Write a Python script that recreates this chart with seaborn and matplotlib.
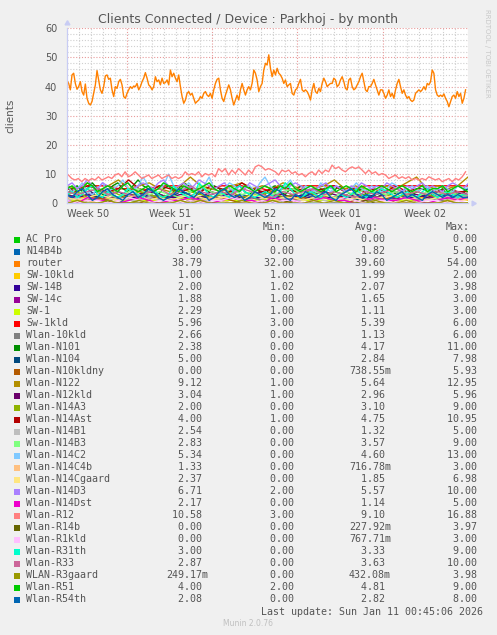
import numpy as np
import pandas as pd
import matplotlib
matplotlib.use("Agg")
import matplotlib.pyplot as plt
import seaborn as sns

# ---------------- data ----------------
names = ["AC Pro", "N14B4b", "router", "SW-10kld", "SW-14B", "SW-14c", "SW-1", "Sw-1kld",
         "Wlan-10kld", "Wlan-N101", "Wlan-N104", "Wlan-N10kldny", "Wlan-N122", "Wlan-N12kld",
         "Wlan-N14A3", "Wlan-N14Ast", "Wlan-N14B1", "Wlan-N14B3", "Wlan-N14C2", "Wlan-N14C4b",
         "Wlan-N14Cgaard", "Wlan-N14D3", "Wlan-N14Dst", "Wlan-R12", "Wlan-R14b", "Wlan-R1kld",
         "Wlan-R31th", "Wlan-R33", "WLAN-R3gaard", "Wlan-R51", "Wlan-R54th"]
colors = ["#00CC00", "#0066B3", "#FF8000", "#FFCC00", "#330099", "#990099", "#CCFF00", "#FF0000",
          "#808080", "#008F00", "#00487D", "#B35A00", "#B38F00", "#6B006B", "#8FB300", "#B30000",
          "#BEBEBE", "#80FF80", "#80C9FF", "#FFC080", "#FFE680", "#AA80FF", "#EE00CC", "#FF8080",
          "#666600", "#FFBFFF", "#00FFCC", "#CC6699", "#999900", "#00CC00", "#0066B3"]
cur = ["0.00 ", "3.00 ", "38.79 ", "1.00 ", "2.00 ", "1.88 ", "2.29 ", "5.96 ", "2.66 ", "2.38 ",
       "5.00 ", "0.00 ", "9.12 ", "3.04 ", "2.00 ", "4.00 ", "2.54 ", "2.83 ", "5.34 ", "1.33 ",
       "2.37 ", "6.71 ", "2.17 ", "10.58 ", "0.00 ", "0.00 ", "3.00 ", "2.87 ", "249.17m", "4.00 ", "2.08 "]
mins = ["0.00 ", "0.00 ", "32.00 ", "1.00 ", "1.02 ", "1.00 ", "1.00 ", "3.00 ", "0.00 ", "0.00 ",
        "0.00 ", "0.00 ", "1.00 ", "1.00 ", "0.00 ", "1.00 ", "0.00 ", "0.00 ", "0.00 ", "0.00 ",
        "0.00 ", "2.00 ", "0.00 ", "3.00 ", "0.00 ", "0.00 ", "0.00 ", "0.00 ", "0.00 ", "2.00 ", "0.00 "]
avgs = ["0.00 ", "1.82 ", "39.60 ", "1.99 ", "2.07 ", "1.65 ", "1.11 ", "5.39 ", "1.13 ", "4.17 ",
        "2.84 ", "738.55m", "5.64 ", "2.96 ", "3.10 ", "4.75 ", "1.32 ", "3.57 ", "4.60 ", "716.78m",
        "1.85 ", "5.57 ", "1.14 ", "9.10 ", "227.92m", "767.71m", "3.33 ", "3.63 ", "432.08m", "4.81 ", "2.82 "]
maxs = ["0.00 ", "5.00 ", "54.00 ", "2.00 ", "3.98 ", "3.00 ", "3.00 ", "6.00 ", "6.00 ", "11.00 ",
        "7.98 ", "5.93 ", "12.95 ", "5.96 ", "9.00 ", "10.95 ", "5.00 ", "9.00 ", "13.00 ", "3.00 ",
        "6.98 ", "10.00 ", "5.00 ", "16.88 ", "3.97 ", "3.00 ", "9.00 ", "10.00 ", "3.98 ", "9.00 ", "8.00 "]

router = [42.1, 41.1, 38.9, 44.0, 44.6, 41.1, 39.1, 40.0, 41.7, 38.3, 37.1, 40.9, 36.0, 34.3, 33.7,
          34.9, 37.7, 40.6, 45.5, 42.3, 38.9, 37.7, 40.0, 43.7, 44.0, 42.5, 42.9, 38.9, 36.6, 40.0,
          39.4, 41.7, 42.5, 40.6, 36.6, 36.0, 37.7, 38.9, 40.0, 39.4, 40.2, 40.0, 41.1, 38.9, 40.0,
          41.7, 42.9, 44.8, 42.9, 40.6, 40.0, 38.9, 40.0, 43.4, 41.7, 42.3, 40.6, 42.9, 41.1, 41.4,
          42.3, 40.6, 45.7, 43.4, 44.6, 42.9, 41.7, 44.0, 40.0, 36.6, 34.3, 35.4, 37.7, 38.3, 37.1,
          37.7, 36.0, 34.3, 34.9, 35.4, 36.6, 36.0, 37.7, 38.3, 37.1, 36.6, 37.7, 36.0, 38.9, 41.1,
          42.5, 42.9, 38.9, 36.0, 34.9, 37.1, 38.9, 40.6, 38.9, 36.0, 33.7, 35.4, 37.1, 35.4, 38.9,
          41.1, 38.9, 37.1, 38.9, 40.0, 38.9, 41.1, 45.7, 44.6, 42.3, 38.3, 40.0, 41.1, 45.7, 48.0,
          47.4, 50.9, 46.3,
          43.4, 45.7, 44.0, 46.3, 44.6, 44.0, 42.9, 41.1, 42.3, 40.0, 40.6, 41.1, 37.7, 37.1, 38.9,
          39.4, 41.1, 42.5, 38.9, 38.3, 38.9, 38.3, 37.1, 35.4, 38.9, 41.1, 38.3, 37.7, 39.4, 38.3,
          41.1, 42.9, 41.7, 40.0, 40.6, 41.1, 41.1, 42.9, 42.3, 40.0, 40.6, 42.3, 43.4, 41.7, 39.4,
          38.9, 42.3, 42.9, 40.0, 38.9, 39.4, 40.6, 41.7, 43.4, 44.6, 41.7, 38.9, 38.3, 40.0, 40.0,
          41.1, 42.5, 40.6, 38.9, 37.1, 38.9, 38.9, 37.7, 36.0, 37.1, 38.9, 36.6, 37.7, 36.0, 38.9,
          41.1, 42.5, 40.0, 37.7, 38.9, 37.1, 36.0, 36.6, 35.4, 34.9, 35.4, 37.7, 38.3, 38.9, 38.3,
          38.9, 40.0, 38.9, 41.1, 40.6, 41.7, 45.7, 44.6, 38.9, 37.1, 36.6, 37.1, 36.6, 37.5, 36.0,
          34.9, 33.1, 34.9, 36.6, 37.1, 36.0, 38.3, 36.6, 37.7, 34.3, 36.0, 38.9]

r12 = [9.1, 9.7, 8.5, 8.0, 8.5, 7.4, 8.5, 7.7, 8.5, 8.0, 9.1, 8.0, 8.5, 9.1, 8.5, 9.7, 10.2, 9.1,
       10.8, 9.1, 9.7, 10.8, 9.7, 8.5, 9.1, 9.7, 8.5, 9.1, 9.7, 8.5, 9.1, 9.7, 8.5, 9.1, 8.5, 9.1,
       10.8, 9.7, 10.2, 9.7, 10.8, 9.1, 10.2, 9.7, 10.2, 9.1, 11.9, 10.8, 11.9, 9.7, 11.4, 10.2,
       11.9, 10.8, 9.7, 11.4, 10.2, 12.5, 13.1, 12.5, 11.4,
       11.9, 11.4, 10.8, 9.7, 11.4, 10.8, 11.4, 10.2, 10.8, 9.7, 10.2, 9.1, 10.2, 10.8, 9.7, 11.4,
       10.2, 11.4, 10.8, 13.1, 11.9, 12.5, 11.4, 10.8, 11.9, 12.5, 11.9, 12.5, 11.4, 10.2, 11.4,
       10.2, 10.8, 9.7, 10.2, 9.7, 8.5, 9.1, 9.7, 8.5, 9.1, 8.5, 9.1, 8.0, 8.5, 8.0, 8.5, 8.0, 9.1,
       8.5, 8.0, 8.5, 7.4, 8.0, 8.5, 7.4, 8.5, 8.0, 9.1, 10.8]

ac_pro = [0.0, 0.0]
n14b4b = [2, 3, 1, 2, 1, 0, 2, 3, 2, 1, 2, 4, 3, 2, 1, 1, 2, 3, 2, 1, 0, 1, 2, 3, 2, 2, 1, 3, 2, 1, 2, 1, 3, 2, 2, 1, 2, 3, 2, 3]
sw_10kld = [2, 2, 2, 2, 2, 2, 2, 2, 2, 2, 2, 2, 1.5, 2, 2, 2, 2, 2, 2, 2, 2, 2, 2, 2, 2, 2, 2, 2, 2, 2, 2, 2, 2, 2, 2, 2, 1.8, 2, 2, 1]
sw_14b = [2, 2, 3, 2, 2, 1.5, 2, 2, 3, 2, 2, 2, 1, 2, 2, 3, 2, 2, 2, 2, 1.5, 2, 3, 2, 2, 2, 2, 3, 2, 2, 2, 1.5, 2, 2, 2, 3, 2, 2, 2, 2]
sw_14c = [2, 1, 2, 1.5, 2, 1, 1, 2, 2, 1.5, 1, 2, 2, 1, 1.5, 2, 2, 1, 2, 1, 2, 2, 1.5, 1, 2, 2, 1, 1.5, 2, 2, 1, 2, 1.5, 2, 1, 2, 2, 1.5, 2, 1.9]
sw_1 = [1, 1, 1, 1, 1.5, 1, 1, 1, 1, 1, 1, 2, 1, 1, 1, 1, 1, 1, 1, 1.3, 1, 1, 1, 1, 1, 1, 1, 1, 1.5, 1, 1, 1, 1, 1, 1, 1, 1, 1, 1, 2.3]
sw_1kld = [5, 5, 6, 6, 6, 5, 5, 4, 5, 6, 6, 6, 5, 5, 5, 6, 6, 6, 5, 5, 4, 5, 5, 6, 6, 6, 6, 5, 5, 6, 6, 6, 6, 6, 6, 6, 6, 6, 6, 6]
wlan_10kld = [1, 0, 1, 2, 1, 0, 0, 1, 2, 3, 1, 0, 1, 1, 2, 1, 0, 1, 2, 1, 1, 0, 1, 2, 1, 3, 2, 1, 0, 1, 1, 2, 1, 0, 1, 2, 1, 1, 2, 2.7]
n101 = [3, 5, 6, 4, 5, 7, 5, 3, 4, 6, 7, 5, 4, 6, 8, 6, 5, 4, 3, 5, 6, 4, 5, 7, 6, 4, 3, 5, 4, 6, 5, 3, 4, 5, 6, 4, 3, 5, 4, 3,
        5, 6, 4, 3, 5, 4, 6, 5, 3, 4, 5, 4, 3, 5, 6, 4, 3, 4, 5, 3, 4, 2, 3, 5, 4, 3, 4, 5, 3, 4, 5, 4, 3, 4, 5, 3, 4, 3, 4, 2.4]
n104 = [4, 3, 5, 2, 3, 4, 2, 3, 5, 3, 2, 4, 3, 2, 3, 4, 2, 1, 3, 4, 3, 2, 3, 2, 4, 3, 2, 3, 1, 2, 3, 4, 2, 3, 2, 3, 2, 4, 3, 5]
n10kldny = [0, 0, 1, 2, 1, 0, 0, 0, 1, 3, 1, 0, 0, 0, 1, 2, 1, 0, 0, 1, 0, 0, 1, 2, 1, 0, 0, 0, 1, 0, 1, 2, 0, 0, 1, 0, 0, 1, 0, 0]
n122 = [6, 5, 7, 4, 6, 8, 5, 6, 7, 5, 4, 6, 9, 6, 5, 4, 6, 7, 5, 6, 5, 7, 6, 4, 5, 6, 8, 5, 6, 5, 4, 6, 5, 7, 9, 5, 6, 5, 6, 9]
n12kld = [3, 2, 3, 4, 3, 2, 3, 3, 4, 3, 2, 3, 3, 2, 4, 3, 3, 2, 3, 4, 3, 3, 2, 3, 3, 4, 3, 2, 3, 3, 2, 3, 4, 3, 3, 2, 3, 3, 4, 3]
n14a3 = [3, 4, 2, 3, 5, 3, 2, 4, 3, 2, 3, 5, 4, 3, 2, 3, 4, 2, 3, 3, 4, 2, 3, 5, 3, 2, 4, 3, 2, 3, 4, 3, 2, 3, 4, 3, 2, 4, 3, 2]
n14ast = [5, 4, 6, 5, 4, 5, 8, 5, 4, 6, 5, 4, 5, 4, 6, 5, 4, 7, 5, 4, 5, 6, 4, 5, 4, 5, 6, 4, 5, 4, 5, 4, 6, 4, 5, 5, 4, 5, 4, 4]
n14b1 = [1, 2, 1, 0, 1, 2, 1, 1, 2, 1, 0, 1, 2, 1, 1, 2, 3, 1, 1, 0, 1, 2, 1, 1, 2, 1, 0, 1, 2, 1, 2, 1, 1, 2, 1, 1, 2, 1, 2, 2.5]
n14b3 = [4, 3, 5, 4, 3, 2, 4, 5, 3, 4, 3, 2, 4, 6, 4, 3, 5, 3, 4, 2, 3, 4, 5, 3, 4, 3, 2, 4, 3, 5, 4, 3, 4, 3, 2, 4, 3, 4, 3, 2.8]
n14c2 = [6, 4, 5, 7, 4, 3, 5, 7, 4, 5, 6, 8, 5, 4, 6, 9, 6, 4, 5, 6, 10, 6, 4, 5, 7, 5, 4, 6, 9, 5, 4, 5, 7, 6, 4, 5, 6, 4, 7, 9,
         6, 4, 5, 6, 8, 5, 4, 6, 5, 4, 7, 5, 4, 6, 5, 4, 5, 7, 5, 4, 6, 5, 4, 5, 7, 6, 4, 5, 6, 4, 5, 6, 4, 5, 6, 5, 4, 6, 5, 5.3]
n14c4b = [0, 1, 1, 0, 0, 1, 2, 1, 0, 0, 1, 0, 1, 1, 2, 1, 0, 0, 1, 0, 1, 1, 0, 0, 1, 2, 1, 0, 0, 1, 0, 1, 1, 0, 1, 0, 0, 1, 1, 1.3]
n14cgaard = [2, 1, 2, 3, 2, 1, 2, 3, 1, 2, 1, 2, 3, 2, 1, 2, 2, 1, 3, 2, 1, 2, 2, 1, 2, 3, 2, 1, 2, 1, 2, 2, 3, 1, 2, 1, 2, 2, 1, 2.4]
n14d3 = [6, 7, 5, 6, 8, 6, 5, 7, 6, 5, 4, 6, 7, 5, 6, 7, 6, 5, 7, 8, 6, 5, 6, 7, 5, 6, 8, 7, 6, 5, 6, 7, 5, 4, 6, 5, 7, 6, 5, 6,
         7, 8, 6, 5, 6, 7, 6, 5, 4, 5, 6, 7, 5, 6, 5, 4, 6, 5, 7, 6, 5, 6, 5, 7, 6, 5, 4, 6, 5, 6, 7, 5, 6, 5, 4, 6, 7, 6, 5, 6.7]
n14dst = [1, 0, 2, 1, 1, 0, 1, 2, 1, 0, 1, 1, 2, 1, 0, 1, 2, 1, 1, 0, 2, 1, 1, 0, 1, 2, 1, 1, 0, 1, 2, 1, 1, 2, 1, 0, 1, 2, 1, 2.2]
r14b = [0, 0, 0, 0, 1, 0, 0, 0, 0, 0, 0, 0, 1, 0, 0, 0, 0, 0, 0, 0, 0, 1, 0, 0, 0, 0, 0, 0, 0, 1, 0, 0, 0, 0, 0, 0, 0, 0, 0, 0]
r1kld = [1, 0, 1, 1, 0, 1, 2, 1, 0, 1, 1, 0, 1, 0, 1, 1, 2, 1, 0, 1, 0, 1, 1, 0, 1, 0, 1, 2, 1, 0, 1, 1, 0, 1, 0, 1, 1, 0, 1, 0]
r31th = [3, 4, 2, 3, 5, 6, 3, 2, 4, 3, 2, 3, 5, 4, 3, 2, 4, 5, 3, 2, 3, 6, 4, 3, 2, 3, 7, 5, 3, 2, 4, 3, 2, 5, 6, 4, 3, 2, 3, 4,
         3, 2, 4, 7, 5, 3, 2, 3, 4, 3, 2, 4, 6, 4, 3, 2, 3, 5, 3, 2, 4, 3, 5, 4, 3, 2, 3, 4, 3, 2, 4, 5, 3, 2, 3, 4, 3, 2, 3, 3]
r33 = [4, 3, 4, 5, 3, 4, 3, 2, 4, 5, 3, 4, 6, 4, 3, 4, 3, 5, 4, 3, 2, 4, 3, 4, 5, 3, 4, 3, 2, 4, 3, 4, 5, 3, 4, 3, 4, 3, 4, 2.9]
r3gaard = [0, 1, 0, 0, 1, 0, 0, 1, 0, 0, 0, 1, 0, 1, 0, 0, 0, 1, 0, 0, 1, 0, 0, 0, 1, 0, 1, 0, 0, 0, 1, 0, 0, 1, 0, 0, 0, 1, 0, 0.2]
r51 = [5, 6, 4, 5, 7, 6, 4, 5, 6, 5, 4, 6, 7, 5, 4, 5, 6, 4, 5, 7, 6, 5, 4, 6, 5, 4, 5, 6, 7, 5, 4, 5, 6, 5, 4, 6, 5, 4, 5, 6,
       5, 4, 6, 5, 7, 5, 4, 5, 6, 5, 4, 5, 6, 4, 5, 6, 5, 4, 6, 5, 4, 5, 6, 5, 4, 5, 6, 5, 4, 5, 6, 4, 5, 5, 6, 4, 5, 6, 5, 4]
r54th = [3, 2, 4, 5, 3, 1, 2, 4, 5, 3, 2, 1, 3, 4, 2, 3, 5, 4, 2, 1, 2, 3, 5, 4, 3, 2, 4, 3, 1, 2, 4, 5, 3, 2, 3, 1, 2, 4, 3, 2,
         3, 5, 4, 2, 1, 3, 2, 4, 3, 2, 3, 4, 2, 1, 3, 4, 5, 3, 2, 3, 2, 4, 3, 1, 2, 3, 4, 2, 3, 2, 1, 3, 4, 3, 2, 3, 2, 3, 2, 2.1]

series = [ac_pro, n14b4b, router, sw_10kld, sw_14b, sw_14c, sw_1, sw_1kld, wlan_10kld, n101, n104,
          n10kldny, n122, n12kld, n14a3, n14ast, n14b1, n14b3, n14c2, n14c4b, n14cgaard, n14d3,
          n14dst, r12, r14b, r1kld, r31th, r33, r3gaard, r51, r54th]

week_labels = ["Week 50", "Week 51", "Week 52", "Week 01", "Week 02"]
y_ticks = [0, 10, 20, 30, 40, 50, 60]

# ---------------- time base (days, graph covers 33 days) ----------------
SPAN = 33.0
last_sunday = SPAN - 0.75 / 24.0          # Sunday 00:00 just before "now" (00:45)
span_of = {"router": (0.0, 32.8), "Wlan-R12": (-0.16, 32.8)}

frames = []
for name, vals in zip(names, series):
    t0, t1 = span_of.get(name, (0.0, SPAN))
    frames.append(pd.DataFrame({"t": np.linspace(t0, t1, len(vals)),
                                "v": np.asarray(vals, dtype=float),
                                "s": name}))
df = pd.concat(frames, ignore_index=True)

# ---------------- figure ----------------
W, H = 497, 635
fig = plt.figure(figsize=(W / 100, H / 100), dpi=100, facecolor="#F0F0F0")
ax = fig.add_axes([67 / W, (H - 203.3) / H, 401 / W, 175 / H])
ax.set_facecolor("white")

txt = "#555555"
# grid
for yv in np.arange(0, 61, 2):
    major = (yv % 10 == 0)
    ax.axhline(yv, color="#E89A9A" if major else "#CFCFCF", lw=0.8,
               ls=(0, (1, 1.6)), zorder=0.5)
day = last_sunday
while day > 0:
    k = (last_sunday - day) / 7.0
    major = abs(k - round(k)) < 1e-6
    ax.axvline(day, color="#E89A9A" if major else "#CFCFCF", lw=0.8,
               ls=(0, (1, 1.6)), zorder=0.5)
    day -= 1.0

sns.lineplot(data=df, x="t", y="v", hue="s", hue_order=names, palette=colors,
             estimator=None, sort=False, legend=False, linewidth=1.0, ax=ax)

ax.set_xlim(0, SPAN)
ax.set_ylim(0, 60)
ax.set_xlabel("")
ax.set_ylabel("")
for s in ["top", "right"]:
    ax.spines[s].set_visible(False)
for s in ["left", "bottom"]:
    ax.spines[s].set_color("#C8CCF4")
    ax.spines[s].set_linewidth(0.9)

ax.set_yticks(y_ticks)
ax.set_yticklabels([str(v) for v in y_ticks])
wk_pos = [last_sunday - 7.0 * (5 - i) + 3.5 + (0.25 if i == 0 else 0.0) for i in range(5)]
ax.set_xticks(wk_pos)
ax.set_xticklabels(week_labels)
ax.tick_params(axis="both", length=0, labelsize=7, labelcolor=txt)
ax.tick_params(axis="y", pad=7)
ax.tick_params(axis="x", pad=4)

# arrow heads on axes
ax.plot([1.012], [0], marker=(3, 0, -90), ms=4, color="#C8CCF4", transform=ax.transAxes,
        clip_on=False)
ax.plot([0], [1.03], marker=(3, 0, 0), ms=4, color="#C8CCF4", transform=ax.transAxes,
        clip_on=False)

fig.text(247.5 / W, 1 - 19 / H, "Clients Connected / Device : Parkhoj - by month",
         ha="center", va="center", fontsize=9, color=txt, family="DejaVu Sans")
fig.text(10 / W, 1 - 115.8 / H, "clients", rotation=90, ha="center", va="center",
         fontsize=7.5, color=txt, family="DejaVu Sans")
fig.text(487 / W, 1 - 53.5 / H, "RRDTOOL / TOBI OETIKER", rotation=270, ha="center",
         va="center", fontsize=5, color="#C8C8C8", family="DejaVu Sans")

# ---------------- legend table ----------------
mono = dict(family="DejaVu Sans Mono", fontsize=7.2, color=txt, va="center")
hy = 1 - 227.3 / H
for label, xr in [("Cur:", 195), ("Min:", 287), ("Avg:", 378.5), ("Max:", 470)]:
    fig.text(xr / W, hy, label, ha="right", **mono)
for i, name in enumerate(names):
    yc = 239.5 + 12.0 * i
    fig.patches.append(plt.Rectangle((14 / W, 1 - (yc + 3.2) / H), 6 / W, 6 / H,
                                     transform=fig.transFigure, facecolor=colors[i],
                                     edgecolor="none"))
    yy = 1 - yc / H
    fig.text(26 / W, yy, name, ha="left", **mono)
    fig.text(208 / W, yy, cur[i], ha="right", **mono)
    fig.text(299.5 / W, yy, mins[i], ha="right", **mono)
    fig.text(391 / W, yy, avgs[i], ha="right", **mono)
    fig.text(483 / W, yy, maxs[i], ha="right", **mono)

fig.text(483 / W, 1 - 611.7 / H, "Last update: Sun Jan 11 00:45:06 2026", ha="right", **mono)
fig.text(248 / W, 1 - 623.7 / H, "Munin 2.0.76", ha="center", va="center", fontsize=5.5,
         color="#C0C0C0", family="DejaVu Sans")

fig.savefig("out.png", dpi=100, facecolor=fig.get_facecolor())
